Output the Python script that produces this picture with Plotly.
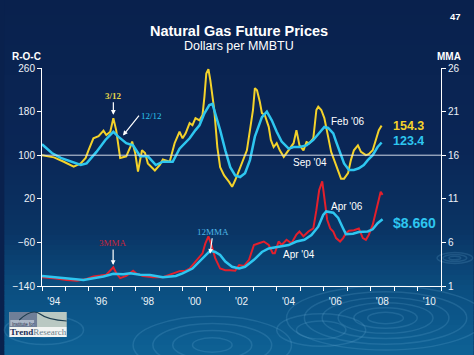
import plotly.graph_objects as go

# ---------------- data ----------------
roc312_t = [1994.00, 1994.51, 1994.93, 1995.35, 1995.65, 1995.86, 1995.98, 1996.19, 1996.41, 1996.62,
            1996.74, 1996.91, 1997.04, 1997.16, 1997.33, 1997.59, 1997.76, 1997.84, 1997.97, 1998.09,
            1998.26, 1998.39, 1998.51, 1998.81, 1999.02, 1999.15, 1999.44, 1999.65, 1999.86, 1999.99,
            2000.12, 2000.29, 2000.41, 2000.54, 2000.71, 2000.84, 2000.92, 2001.00, 2001.09, 2001.17,
            2001.34, 2001.47, 2001.59, 2001.76, 2001.97, 2002.10, 2002.23, 2002.40, 2002.52, 2002.73,
            2002.86, 2002.99, 2003.07, 2003.16, 2003.28, 2003.37, 2003.49, 2003.66, 2003.75, 2003.87,
            2004.00, 2004.13, 2004.30, 2004.51, 2004.72, 2004.84, 2004.97, 2005.14, 2005.27, 2005.39,
            2005.56, 2005.69, 2005.77, 2005.90, 2006.03, 2006.19, 2006.32, 2006.45, 2006.62, 2006.74,
            2006.87, 2007.04, 2007.16, 2007.29, 2007.46, 2007.59, 2007.80, 2007.92, 2008.09, 2008.22,
            2008.35, 2008.47]
roc312_v = [100, 96, 88, 79, 85, 95, 109, 131, 135, 145,
            137, 143, 168, 146, 95, 98, 115, 125, 104, 70,
            109, 104, 85, 72, 82, 92, 88, 122, 143, 131,
            140, 159, 155, 168, 164, 174, 207, 250, 258, 238,
            183, 115, 78, 63, 51, 42, 54, 73, 85, 109,
            146, 183, 223, 219, 198, 177, 174, 152, 128, 115,
            122, 109, 97, 109, 122, 146, 118, 109, 124, 122,
            131, 183, 189, 183, 168, 134, 106, 91, 69, 57,
            57, 67, 91, 109, 118, 106, 100, 102, 109, 128,
            146, 154.3]

roc1212_t = [1994.00, 1994.42, 1994.80, 1995.22, 1995.65, 1995.90, 1996.32, 1996.70, 1997.04, 1997.25,
             1997.59, 1997.88, 1998.18, 1998.51, 1998.85, 1999.15, 1999.57, 1999.86, 2000.29, 2000.54,
             2000.71, 2000.92, 2001.13, 2001.26, 2001.38, 2001.59, 2001.81, 2002.02, 2002.23, 2002.44,
             2002.65, 2002.86, 2003.07, 2003.37, 2003.58, 2003.79, 2004.00, 2004.21, 2004.51, 2004.72,
             2004.97, 2005.27, 2005.56, 2005.81, 2006.03, 2006.19, 2006.41, 2006.53, 2006.66, 2006.87,
             2007.08, 2007.29, 2007.50, 2007.71, 2007.88, 2008.09, 2008.30, 2008.47]
roc1212_v = [120, 104, 95, 88, 82, 85, 106, 128, 143, 134,
             122, 118, 98, 98, 82, 88, 88, 112, 131, 146,
             155, 177, 192, 194, 177, 146, 109, 78, 63, 60,
             67, 91, 134, 170, 180, 164, 143, 125, 112, 115,
             115, 118, 128, 140, 152, 150, 140, 125, 109, 85,
             73, 73, 76, 82, 91, 100, 115, 123.4]

mma3_t = [1994.00, 1994.51, 1995.05, 1995.48, 1995.90, 1996.19, 1996.49, 1996.74, 1997.04, 1997.16,
          1997.33, 1997.59, 1997.88, 1998.01, 1998.30, 1998.73, 1999.15, 1999.44, 1999.86, 2000.12,
          2000.29, 2000.54, 2000.84, 2000.96, 2001.09, 2001.22, 2001.38, 2001.59, 2001.81, 2002.02,
          2002.23, 2002.40, 2002.61, 2002.82, 2003.03, 2003.24, 2003.45, 2003.66, 2003.83, 2003.92,
          2004.08, 2004.21, 2004.42, 2004.63, 2004.84, 2004.97, 2005.14, 2005.35, 2005.56, 2005.69,
          2005.81, 2005.94, 2006.03, 2006.15, 2006.28, 2006.41, 2006.53, 2006.70, 2006.83, 2006.95,
          2007.08, 2007.29, 2007.50, 2007.67, 2007.80, 2007.92, 2008.09, 2008.22, 2008.35, 2008.43,
          2008.51]
mma3_v = [2.0, 1.9, 1.7, 1.6, 1.8, 2.1, 2.2, 2.3, 3.15, 2.5,
          1.9, 2.15, 2.75, 2.45, 2.15, 2.0, 2.0, 2.3, 2.7, 2.75,
          3.0, 3.8, 4.75, 5.9, 6.7, 5.7, 4.2, 3.0, 2.8, 2.8,
          2.75, 3.4, 3.3, 4.0, 5.7, 5.9, 6.1, 5.7, 4.75, 4.75,
          6.1, 5.7, 6.3, 5.9, 6.9, 7.25, 6.7, 7.25, 7.6, 9.7,
          12.0, 13.0, 11.25, 8.6, 7.6, 7.25, 6.5, 6.1, 6.5, 7.05,
          7.35, 7.4, 7.6, 6.5, 6.3, 6.85, 8.0, 9.35, 10.9, 11.8,
          11.45]

mma12_t = [1994.00, 1994.51, 1995.05, 1995.77, 1996.19, 1996.62, 1997.04, 1997.46, 1997.76, 1998.18,
           1998.60, 1999.15, 1999.70, 1999.99, 2000.41, 2000.84, 2001.17, 2001.38, 2001.59, 2001.81,
           2002.10, 2002.40, 2002.65, 2003.03, 2003.37, 2003.66, 2004.08, 2004.51, 2004.84, 2005.18,
           2005.48, 2005.77, 2005.98, 2006.11, 2006.41, 2006.62, 2006.83, 2006.95, 2007.25, 2007.50,
           2007.88, 2008.09, 2008.30, 2008.51]
mma12_v = [2.15, 2.0, 1.85, 1.7, 1.9, 2.1, 2.4, 2.35, 2.45, 2.3,
           2.25, 2.0, 2.15, 2.45, 3.0, 4.2, 5.05, 4.9, 4.55, 3.8,
           3.2, 3.0, 3.2, 4.0, 4.9, 5.3, 5.5, 5.7, 6.1, 6.3,
           6.85, 7.8, 9.15, 9.55, 9.4, 8.8, 7.6, 6.95, 7.0, 7.2,
           7.25, 7.5, 8.2, 8.66]

roc_ticks = [-140, -60, 20, 100, 180, 260]
mma_ticks = [1, 6, 11, 16, 21, 26]
year_labels = ["'94", "'96", "'98", "'00", "'02", "'04", "'06", "'08", "'10"]
year_label_pos = [1994.5, 1996.5, 1998.5, 2000.5, 2002.5, 2004.5, 2006.5, 2008.5, 2010.5]
year_ticks = list(range(1994, 2012))

# ---------------- layout helpers ----------------
W, H = 474, 355
L, R, T, B = 38, 33, 68, 69
PW, PH = W - L - R, H - T - B


def px(x):
    return (x - L) / PW


def py(y):
    return (H - B - y) / PH


YELLOW = "#f4d22a"
CYAN = "#2ec6f0"
RED = "#e3202c"
WHITE = "#ffffff"
SANS = "Liberation Sans, Arial, sans-serif"
SERIF = "Liberation Serif, Times New Roman, serif"

fig = go.Figure()
fig.add_trace(go.Scatter(x=roc312_t, y=roc312_v, mode="lines", line=dict(color=YELLOW, width=2),
                         yaxis="y", showlegend=False))
fig.add_trace(go.Scatter(x=mma3_t, y=mma3_v, mode="lines", line=dict(color=RED, width=2),
                         yaxis="y2", showlegend=False))
fig.add_trace(go.Scatter(x=roc1212_t, y=roc1212_v, mode="lines", line=dict(color=CYAN, width=2.5),
                         yaxis="y", showlegend=False))
fig.add_trace(go.Scatter(x=mma12_t, y=mma12_v, mode="lines", line=dict(color=CYAN, width=2.5),
                         yaxis="y2", showlegend=False))

shapes = []
# background gradient
stops = [(0, (9, 33, 77)), (150, (10, 38, 86)), (230, (10, 52, 100)), (290, (11, 78, 128)), (355, (14, 98, 150))]
N = 71
for i in range(N):
    y0 = i * H / N
    y1 = (i + 1) * H / N
    ym = (y0 + y1) / 2
    for (a, ca), (b, cb) in zip(stops[:-1], stops[1:]):
        if a <= ym <= b:
            f = (ym - a) / (b - a)
            c = tuple(int(round(ca[k] + (cb[k] - ca[k]) * f)) for k in range(3))
            break
    shapes.append(dict(type="rect", xref="paper", yref="paper", x0=px(0), x1=px(W),
                       y0=py(y1 + 0.5), y1=py(y0), fillcolor="rgb(%d,%d,%d)" % c,
                       line=dict(width=0), layer="below"))

# decorative ripples
ripples = [(385, 318, [18, 32, 48, 64, 82, 100], 0.32),
           (455, 258, [6, 12, 18], 0.30),
           (210, 345, [20, 40, 60, 80], 0.36),
           (320, 330, [25, 45], 0.36),
           (40, 330, [20, 40], 0.36)]
for cx, cy, rs, k in ripples:
    for r in rs:
        shapes.append(dict(type="circle", xref="paper", yref="paper",
                           x0=px(cx - r), x1=px(cx + r), y0=py(cy + r * k), y1=py(cy - r * k),
                           line=dict(color="rgba(120,190,230,0.18)", width=1.5), layer="below"))

# reference line at 100
shapes.append(dict(type="line", xref="paper", yref="y", x0=0, x1=1, y0=100, y1=100,
                   line=dict(color="rgba(230,235,245,0.9)", width=1)))

# logo
shapes.append(dict(type="rect", xref="paper", yref="paper", x0=px(5), x1=px(63), y0=py(327), y1=py(312),
                   fillcolor="#b9c8c2", line=dict(width=0)))
shapes.append(dict(type="rect", xref="paper", yref="paper", x0=px(5), x1=px(33), y0=py(327), y1=py(312),
                   fillcolor="#6f7f98", line=dict(width=0)))
shapes.append(dict(type="rect", xref="paper", yref="paper", x0=px(6), x1=px(30), y0=py(326), y1=py(320),
                   fillcolor="#aab6c6", line=dict(width=0)))
shapes.append(dict(type="path", xref="paper", yref="paper",
                   path="M %f,%f Q %f,%f %f,%f Q %f,%f %f,%f" % (
                       px(15), py(320), px(28), py(308), px(36), py(314),
                       px(44), py(320), px(63), py(321)),
                   line=dict(color="#1d3d4f", width=1.2)))
shapes.append(dict(type="rect", xref="paper", yref="paper", x0=px(5), x1=px(63), y0=py(337), y1=py(327),
                   fillcolor="#f2f4f2", line=dict(width=0)))

annotations = []


def txt(x, y, s, size, color=WHITE, bold=False, family=SANS, xanchor="center", height=None):
    a = dict(xref="paper", yref="paper", x=px(x), y=py(y), text=("<b>%s</b>" % s) if bold else s,
             showarrow=False, font=dict(size=size, color=color, family=family),
             xanchor=xanchor, yanchor="middle")
    if height:
        a["height"] = height
    annotations.append(a)


txt(237, 31, "Natural Gas Future Prices", 14.5, bold=True)
txt(237, 46, "Dollars per MMBTU", 12.5)
txt(456, 16, "47", 9.5, bold=True)
txt(22, 57, "R-O-C", 10, bold=True)
txt(449, 57, "MMA", 10, bold=True)
txt(391, 125.5, "154.3", 12.5, color=YELLOW, bold=True, xanchor="left", height=13)
txt(391, 140, "123.4", 12.5, color=CYAN, bold=True, xanchor="left", height=13)
txt(390, 223, "$8.660", 14, color=CYAN, bold=True, xanchor="left")
txt(328, 121, "Feb '06", 10, xanchor="left")
txt(290, 162, "Sep '04", 10, xanchor="left")
txt(328, 206, "Apr '06", 10, xanchor="left")
txt(279, 254, "Apr '04", 10, xanchor="left")
txt(6, 324, "Institute for", 4.5, color="#1d2d4a", xanchor="left")
annotations.append(dict(xref="paper", yref="paper", x=px(4), y=py(332),
                        text="<b>Trend</b><span style='color:#6b7f8a'>Research</span>",
                        showarrow=False, font=dict(size=9, color="#1b2f57", family=SERIF),
                        xanchor="left", yanchor="middle"))

# arrow annotations
annotations.append(dict(x=1997.04, xref="x", y=174, yref="y", text="<b>3/12</b>", showarrow=True,
                        ax=0, ay=-19, arrowcolor=WHITE, arrowwidth=1.2, arrowhead=2, arrowsize=0.8,
                        font=dict(size=9, color="#e8d84a", family=SERIF)))
annotations.append(dict(x=1997.45, xref="x", y=136, yref="y", text="12/12", showarrow=True,
                        ax=16, ay=-20, arrowcolor=WHITE, arrowwidth=1.2, arrowhead=2, arrowsize=0.8,
                        font=dict(size=9, color=CYAN, family=SERIF), xanchor="left"))
annotations.append(dict(x=2001.16, xref="x", y=4.7, yref="y2", text="12MMA", showarrow=True,
                        ax=3, ay=-22, arrowcolor=WHITE, arrowwidth=1.2, arrowhead=2, arrowsize=0.8,
                        font=dict(size=9, color="#4fb6e6", family=SERIF)))
annotations.append(dict(x=1997.03, xref="x", y=3.4, yref="y2", text="3MMA", showarrow=True,
                        ax=0, ay=-22, arrowcolor=WHITE, arrowwidth=1.2, arrowhead=2, arrowsize=0.8,
                        font=dict(size=9, color="#c8243a", family=SERIF)))

axis_font = dict(size=10, color="#eef2f8", family=SANS)
fig.update_layout(
    width=W, height=H,
    margin=dict(l=L, r=R, t=T, b=B, pad=0),
    paper_bgcolor="rgb(9,33,77)",
    plot_bgcolor="rgba(0,0,0,0)",
    showlegend=False,
    shapes=shapes,
    annotations=annotations,
    xaxis=dict(range=[1994, 2011], showgrid=False, zeroline=False, showline=True, linecolor=WHITE,
               linewidth=1, tickmode="array", tickvals=year_label_pos, ticktext=year_labels, ticks="",
               tickfont=axis_font, ticklabelstandoff=6,
               minor=dict(tickmode="array", tickvals=year_ticks, ticks="outside", ticklen=4,
                          tickcolor=WHITE, tickwidth=1, showgrid=False)),
    yaxis=dict(range=[-140, 260], showgrid=False, zeroline=False, showline=True, linecolor=WHITE,
               linewidth=1, tickmode="array", tickvals=roc_ticks, ticks="outside", ticklen=4,
               tickcolor=WHITE, tickfont=axis_font),
    yaxis2=dict(range=[1, 26], overlaying="y", side="right", showgrid=False, zeroline=False,
                showline=True, linecolor=WHITE, linewidth=1, tickmode="array", tickvals=mma_ticks,
                ticks="outside", ticklen=4, tickcolor=WHITE, tickfont=axis_font),
)

fig.write_html("out.html", config={"displayModeBar": False},
               post_script="document.body.style.margin='0';document.body.style.padding='0';"
                           "document.documentElement.style.overflow='hidden';")
